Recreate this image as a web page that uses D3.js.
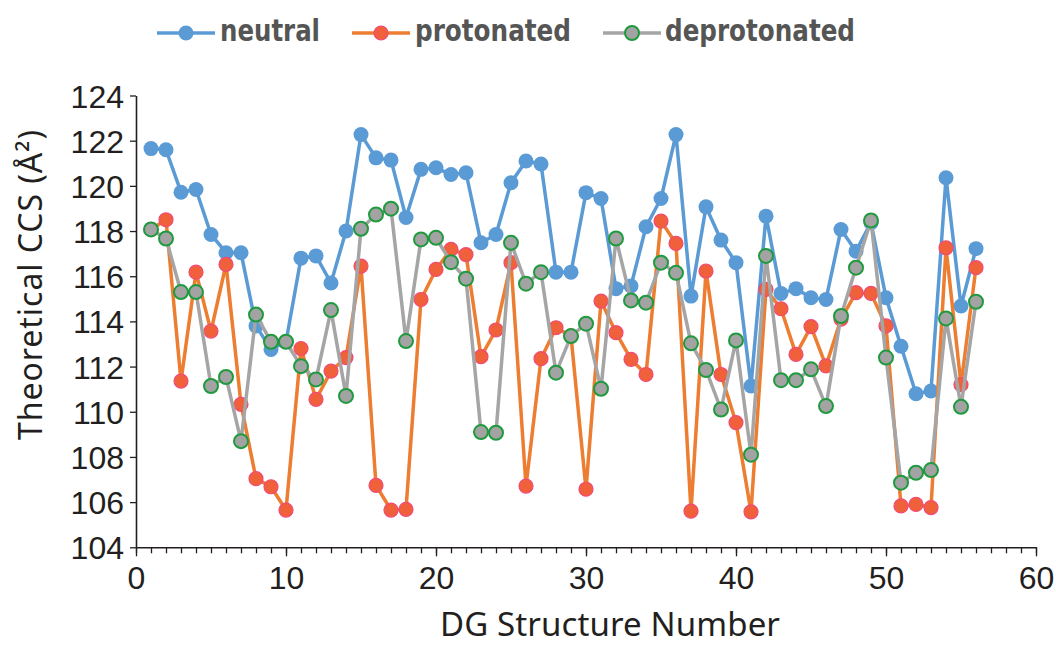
<!DOCTYPE html>
<html>
<head>
<meta charset="utf-8">
<script src="https://cdn.jsdelivr.net/npm/d3@7"></script>
<style>
  body { margin: 0; background: #fff; }
  svg { display: block; }
</style>
</head>
<body>
<div id="chart-area"></div>
<script>
// Structure numbers (x)
var structures = [1,2,3,4,5,6,7,8,9,10,11,12,13,14,15,16,17,18,19,20,
    21,22,23,24,25,26,27,28,29,30,31,32,33,34,35,36,37,38,39,40,
    41,42,43,44,45,46,47,48,49,50,51,52,53,54,55,56];

// Theoretical CCS values
var neutral = [121.65,121.6,119.72,119.84,117.85,117.04,117.04,113.8,112.76,113.1,
    116.8,116.9,115.7,118.0,122.27,121.24,121.14,118.6,120.73,120.8,
    120.5,120.58,117.48,117.85,120.14,121.1,120.97,116.18,116.18,119.7,
    119.44,115.45,115.57,118.19,119.44,122.27,115.12,119.07,117.6,116.6,
    111.14,118.66,115.24,115.45,115.05,114.97,118.07,117.11,118.37,115.05,
    112.9,110.8,110.92,120.36,114.68,117.22];
var protonated = [118.07,118.5,111.36,116.18,113.57,116.52,110.33,107.04,106.68,105.65,
    112.8,110.55,111.8,112.4,116.45,106.74,105.65,105.68,114.97,116.3,
    117.19,116.96,112.44,113.62,116.6,106.71,112.35,113.72,113.35,106.57,
    114.9,113.5,112.32,111.65,118.44,117.45,105.6,116.23,111.65,109.52,
    105.57,115.42,114.56,112.54,113.77,112.03,114.1,115.27,115.24,113.8,
    105.83,105.9,105.76,117.26,111.2,116.38];
var deprotonated = [118.07,117.67,115.3,115.3,111.14,111.54,108.7,114.3,113.1,113.1,
    112.02,111.43,114.5,110.7,118.1,118.73,118.99,113.13,117.63,117.7,
    116.62,115.89,109.1,109.07,117.48,115.67,116.18,111.73,113.35,113.9,
    111.02,117.67,114.93,114.83,116.6,116.15,113.03,111.85,110.1,113.16,
    108.1,116.9,111.4,111.4,111.88,110.25,114.24,116.38,118.47,112.4,
    106.86,107.3,107.42,114.13,110.22,114.87];

var yTicks = [104,106,108,110,112,114,116,118,120,122,124];
var xTicks = [0,10,20,30,40,50,60];
var xMinor = d3.range(0, 61);

var series = [
    { name: "neutral", values: neutral, line: "#5b9bd5", fill: "#5b9bd5", stroke: "#5b9bd5", sw: 0, r: 7.5, lx: 157, tx: 220, tw: 100 },
    { name: "protonated", values: protonated, line: "#ed7d31", fill: "#f0603a", stroke: "#f04a78", sw: 1.2, r: 7, lx: 352, tx: 415, tw: 156 },
    { name: "deprotonated", values: deprotonated, line: "#a5a5a5", fill: "#a3a3a3", stroke: "#1f9a3e", sw: 2, r: 7, lx: 603, tx: 665, tw: 190 }
];

//Margin
var margin = { left:136, right:20, top:95.5, bottom:97.7 },
    width = 1056 - margin.left - margin.right,
    height = 645 - margin.top - margin.bottom;

var svg = d3.select("#chart-area").append("svg")
    .attr("width", 1056)
    .attr("height", 645)
    .style("font-family", "'Noto Sans', sans-serif");

svg.append("rect").attr("width",1056).attr("height",645).attr("fill","#fff");

var g = svg.append("g")
    .attr("transform", "translate("+margin.left+","+margin.top+")");

//Scales
var x = d3.scaleLinear().domain([0,60]).range([0,width]);
var y = d3.scaleLinear().domain([104,124]).range([height,0]);

var axisColor = "#231f20";

//X axis: minor ticks every unit, labels every 10
var xMinorAxis = g.append("g")
    .attr("transform","translate(0,"+height+")")
    .call(d3.axisBottom(x).tickValues(xMinor).tickSize(6).tickFormat("").tickSizeOuter(0));
xMinorAxis.select(".domain").remove();
xMinorAxis.selectAll("line").attr("stroke",axisColor).attr("stroke-width",1.3);

var xAxis = g.append("g")
    .attr("transform","translate(0,"+height+")")
    .call(d3.axisBottom(x).tickValues(xTicks).tickSize(9).tickSizeOuter(0).tickPadding(8));
xAxis.select(".domain").attr("stroke",axisColor).attr("stroke-width",1.6);
xAxis.selectAll("line").attr("stroke",axisColor).attr("stroke-width",1.3);
xAxis.selectAll("text")
    .attr("fill","#231f20")
    .style("font-size","32px")
    .attr("dy","0.78em");

//Y axis
var yAxis = g.append("g")
    .call(d3.axisLeft(y).tickValues(yTicks).tickSize(6).tickSizeOuter(0).tickPadding(6));
yAxis.select(".domain").attr("stroke",axisColor).attr("stroke-width",1.6);
yAxis.selectAll("line").attr("stroke",axisColor).attr("stroke-width",1.3);
yAxis.selectAll("text")
    .attr("fill","#231f20")
    .style("font-size","32px")
    .attr("dy","0.36em");

//Axis titles
svg.append("text")
    .attr("x", 610)
    .attr("y", 636)
    .attr("text-anchor","middle")
    .attr("fill","#231f20")
    .attr("textLength", 340)
    .style("font-size","33px")
    .text("DG Structure Number");

svg.append("text")
    .attr("transform","translate(42,285) rotate(-90)")
    .attr("text-anchor","middle")
    .attr("fill","#231f20")
    .attr("textLength", 310)
    .style("font-size","32px")
    .text("Theoretical CCS (Å²)");

//Lines and markers
var line = d3.line()
    .x((d,i) => x(structures[i]))
    .y((d) => y(d));

series.forEach(function(s) {
    g.append("path")
        .attr("d", line(s.values))
        .attr("fill","none")
        .attr("stroke", s.line)
        .attr("stroke-width", 3.5)
        .attr("stroke-linejoin","round");

    g.selectAll(".pt-"+s.name)
        .data(s.values)
        .enter().append("circle")
        .attr("class","pt-"+s.name)
        .attr("cx", (d,i) => x(structures[i]))
        .attr("cy", (d) => y(d))
        .attr("r", s.r)
        .attr("fill", s.fill)
        .attr("stroke", s.stroke)
        .attr("stroke-width", s.sw);
});

//Legend
var legend = svg.append("g");
series.forEach(function(s) {
    legend.append("line")
        .attr("x1", s.lx).attr("x2", s.lx + 58)
        .attr("y1", 33).attr("y2", 33)
        .attr("stroke", s.line)
        .attr("stroke-width", 3.5);
    legend.append("circle")
        .attr("cx", s.lx + 29).attr("cy", 33)
        .attr("r", s.r)
        .attr("fill", s.fill)
        .attr("stroke", s.stroke)
        .attr("stroke-width", s.sw);
    legend.append("text")
        .attr("x", s.tx).attr("y", 41)
        .attr("fill","#555555")
        .attr("textLength", s.tw)
        .attr("lengthAdjust","spacingAndGlyphs")
        .style("font-family","'DejaVu Sans Condensed', 'DejaVu Sans', sans-serif")
        .style("font-weight","bold")
        .style("font-size","31px")
        .text(s.name);
});
</script>
</body>
</html>
